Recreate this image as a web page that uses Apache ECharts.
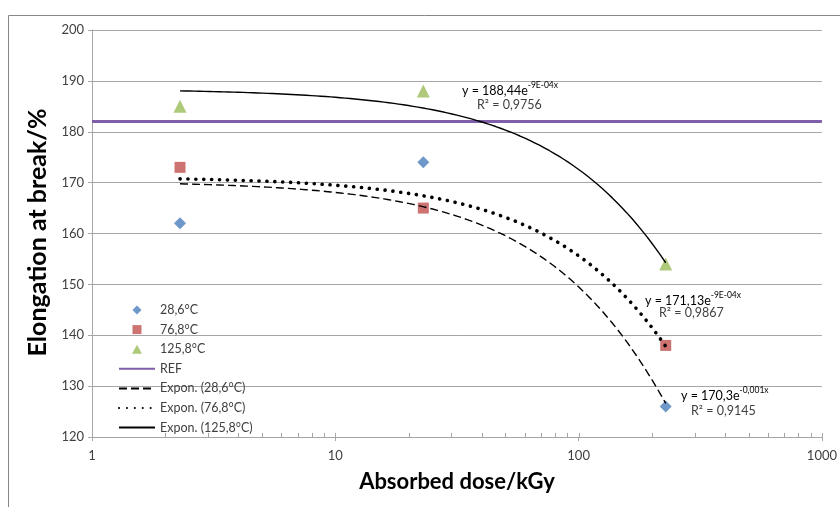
<!DOCTYPE html>
<html><head><meta charset="utf-8">
<script src="https://cdn.jsdelivr.net/npm/echarts@6/dist/echarts.min.js"></script>
<style>html,body{margin:0;padding:0;background:#fff}#c{width:840px;height:507px}</style>
</head><body><div id="c"></div>
<script>
// ---- data ----
const doses = [2.3, 23, 228];
const elong286 = [162, 174, 126];
const elong768 = [173, 165, 138];
const elong1258 = [185, 188, 154];
const refLevel = 182;
const seriesNames = ['28,6°C', '76,8°C', '125,8°C'];
const trendNames = ['Expon. (28,6°C)', 'Expon. (76,8°C)', 'Expon. (125,8°C)'];
const xMajorTicks = [1, 10, 100, 1000];
const xMinorTicks = [2,3,4,5,6,7,8,9,20,30,40,50,60,70,80,90,200,300,400,500,600,700,800,900];
const eqCoef = ['188,44', '171,13', '170,3'];
const eqExp = ['-9E-04x', '-9E-04x', '-0,001x'];
const eqR2 = ['0,9756', '0,9867', '0,9145'];

// exponential least-squares fit (as Excel's trendline), ln y = ln a + b x
function expFit(xs, ys) {
  const n = xs.length;
  const ls = ys.map(Math.log);
  const mx = xs.reduce((s, v) => s + v, 0) / n;
  const ml = ls.reduce((s, v) => s + v, 0) / n;
  let sxy = 0, sxx = 0;
  for (let i = 0; i < n; i++) { sxy += (xs[i] - mx) * (ls[i] - ml); sxx += (xs[i] - mx) ** 2; }
  const b = sxy / sxx;
  return { a: Math.exp(ml - b * mx), b };
}
function trendCurve(xs, ys) {
  const f = expFit(xs, ys);
  const lo = Math.log10(Math.min(...xs)), hi = Math.log10(Math.max(...xs));
  const pts = [];
  const N = 100;
  for (let i = 0; i <= N; i++) {
    const x = Math.pow(10, lo + (hi - lo) * i / N);
    pts.push([x, f.a * Math.exp(f.b * x)]);
  }
  return pts;
}
const pair = (ys) => doses.map((d, i) => [d, ys[i]]);

const FONT = 'Lato, "Liberation Sans", sans-serif';
const TXT = '#404040';
const GRID = '#A6A6A6';

const chart = echarts.init(document.getElementById('c'), null, { renderer: 'canvas' });

function eqText(i) {
  return {
    text: '{a|y = ' + eqCoef[i] + 'e}{b|' + eqExp[i] + '}',
    rich: {
      a: { fontSize: 12.5, fontFamily: FONT, color: TXT, lineHeight: 16, verticalAlign: 'bottom' },
      b: { fontSize: 8.5, fontFamily: FONT, color: TXT, lineHeight: 16, verticalAlign: 'top' }
    }
  };
}

const ICON_DIAMOND = 'path://M0,5L5,0L10,5L5,10Z';
const ICON_SQUARE = 'path://M0,0L10,0L10,10L0,10Z';
const ICON_TRI = 'path://M5,0L10,9L0,9Z';
const hideSym = { opacity: 0 };

const option = {
  animation: false,
  backgroundColor: '#fff',
  grid: { left: 92, right: 17, top: 30, bottom: 70 },
  xAxis: {
    type: 'log', logBase: 10, min: 1, max: 1000,
    name: 'Absorbed dose/kGy', nameLocation: 'middle', nameGap: 34,
    nameTextStyle: { fontFamily: FONT, fontWeight: 'bold', fontSize: 22, color: '#000' },
    axisLine: { lineStyle: { color: GRID } },
    axisTick: { show: true, length: 4, lineStyle: { color: GRID } },
    axisLabel: { fontFamily: FONT, fontSize: 13, color: TXT, margin: 12,
      formatter: v => (xMajorTicks.indexOf(Math.round(v)) >= 0 ? String(Math.round(v)) : '') },
    splitLine: { show: false }
  },
  yAxis: {
    type: 'value', min: 120, max: 200, interval: 10,
    name: 'Elongation at break/%', nameLocation: 'middle', nameGap: 39,
    nameTextStyle: { fontFamily: FONT, fontWeight: 'bold', fontSize: 25, color: '#000', padding: [0, 0, 0, 2] },
    axisLine: { show: true, lineStyle: { color: GRID } },
    axisTick: { show: true, length: 4, lineStyle: { color: GRID } },
    axisLabel: { fontFamily: FONT, fontSize: 13, color: TXT, margin: 8 },
    splitLine: { show: true, lineStyle: { color: GRID, width: 1 } }
  },
  legend: {
    orient: 'vertical', left: 113, top: 298, itemGap: 5.6,
    itemWidth: 36, itemHeight: 9, symbolKeepAspect: true,
    textStyle: { fontFamily: FONT, fontSize: 12.5, color: TXT, lineHeight: 14 },
    data: [
      { name: seriesNames[0], icon: ICON_DIAMOND },
      { name: seriesNames[1], icon: ICON_SQUARE },
      { name: seriesNames[2], icon: ICON_TRI },
      { name: 'REF', itemStyle: hideSym },
      { name: trendNames[0], itemStyle: hideSym },
      { name: trendNames[1], itemStyle: hideSym },
      { name: trendNames[2], itemStyle: hideSym }
    ]
  },
  series: [
    { name: 'minorTicks', type: 'custom', silent: true, z: 1,
      data: xMinorTicks.concat(xMajorTicks).map(v => [v, 120]),
      renderItem: (params, api) => {
        const p = api.coord([api.value(0), api.value(1)]);
        return { type: 'line', shape: { x1: Math.round(p[0]) + 0.5, y1: p[1] - 4, x2: Math.round(p[0]) + 0.5, y2: p[1] },
          style: { stroke: GRID, lineWidth: 1 } };
      }, clip: false },
    { name: seriesNames[0], type: 'scatter', data: pair(elong286), symbol: 'diamond', symbolSize: 12,
      itemStyle: { color: '#4A7EBB' }, z: 3 },
    { name: seriesNames[1], type: 'scatter', data: pair(elong768), symbol: 'rect', symbolSize: 11,
      itemStyle: { color: '#C0504D' }, z: 3 },
    { name: seriesNames[2], type: 'scatter', data: pair(elong1258), symbol: 'triangle', symbolSize: 13,
      itemStyle: { color: '#9BBB59' }, z: 3 },
    { name: 'REF', type: 'line', data: [[1, refLevel], [1000, refLevel]], symbol: 'none',
      lineStyle: { color: '#7F5FA9', width: 3 }, itemStyle: { color: '#7F5FA9' }, z: 4 },
    { name: trendNames[0], type: 'line', data: trendCurve(doses, elong286), symbol: 'none', smooth: false,
      lineStyle: { color: '#000', width: 1.4, type: [8, 4] }, itemStyle: { color: '#000' }, z: 5 },
    { name: trendNames[1], type: 'line', data: trendCurve(doses, elong768), symbol: 'none', smooth: false,
      lineStyle: { color: '#000', width: 3.6, type: [0.1, 7.8], cap: 'round' }, itemStyle: { color: '#000' }, z: 5 },
    { name: trendNames[2], type: 'line', data: trendCurve(doses, elong1258), symbol: 'none', smooth: false,
      lineStyle: { color: '#000', width: 1.4 }, itemStyle: { color: '#000' }, z: 5 }
  ],
  graphic: [
    { type: 'rect', shape: { x: 8.5, y: 15.5, width: 900, height: 600 }, style: { fill: 'none', stroke: '#888', lineWidth: 1 }, z: 0, silent: true },
    { type: 'text', left: 462, top: 81, style: eqText(0), z: 10 },
    { type: 'text', left: 477, top: 98, style: { text: 'R² = ' + eqR2[0], font: '12.5px ' + FONT, fill: TXT }, z: 10 },
    { type: 'text', left: 645, top: 291, style: eqText(1), z: 10 },
    { type: 'text', left: 659, top: 306, style: { text: 'R² = ' + eqR2[1], font: '12.5px ' + FONT, fill: TXT }, z: 10 },
    { type: 'text', left: 681, top: 386, style: eqText(2), z: 10 },
    { type: 'text', left: 691, top: 404, style: { text: 'R² = ' + eqR2[2], font: '12.5px ' + FONT, fill: TXT }, z: 10 }
  ]
};
chart.setOption(option);
</script></body></html>
